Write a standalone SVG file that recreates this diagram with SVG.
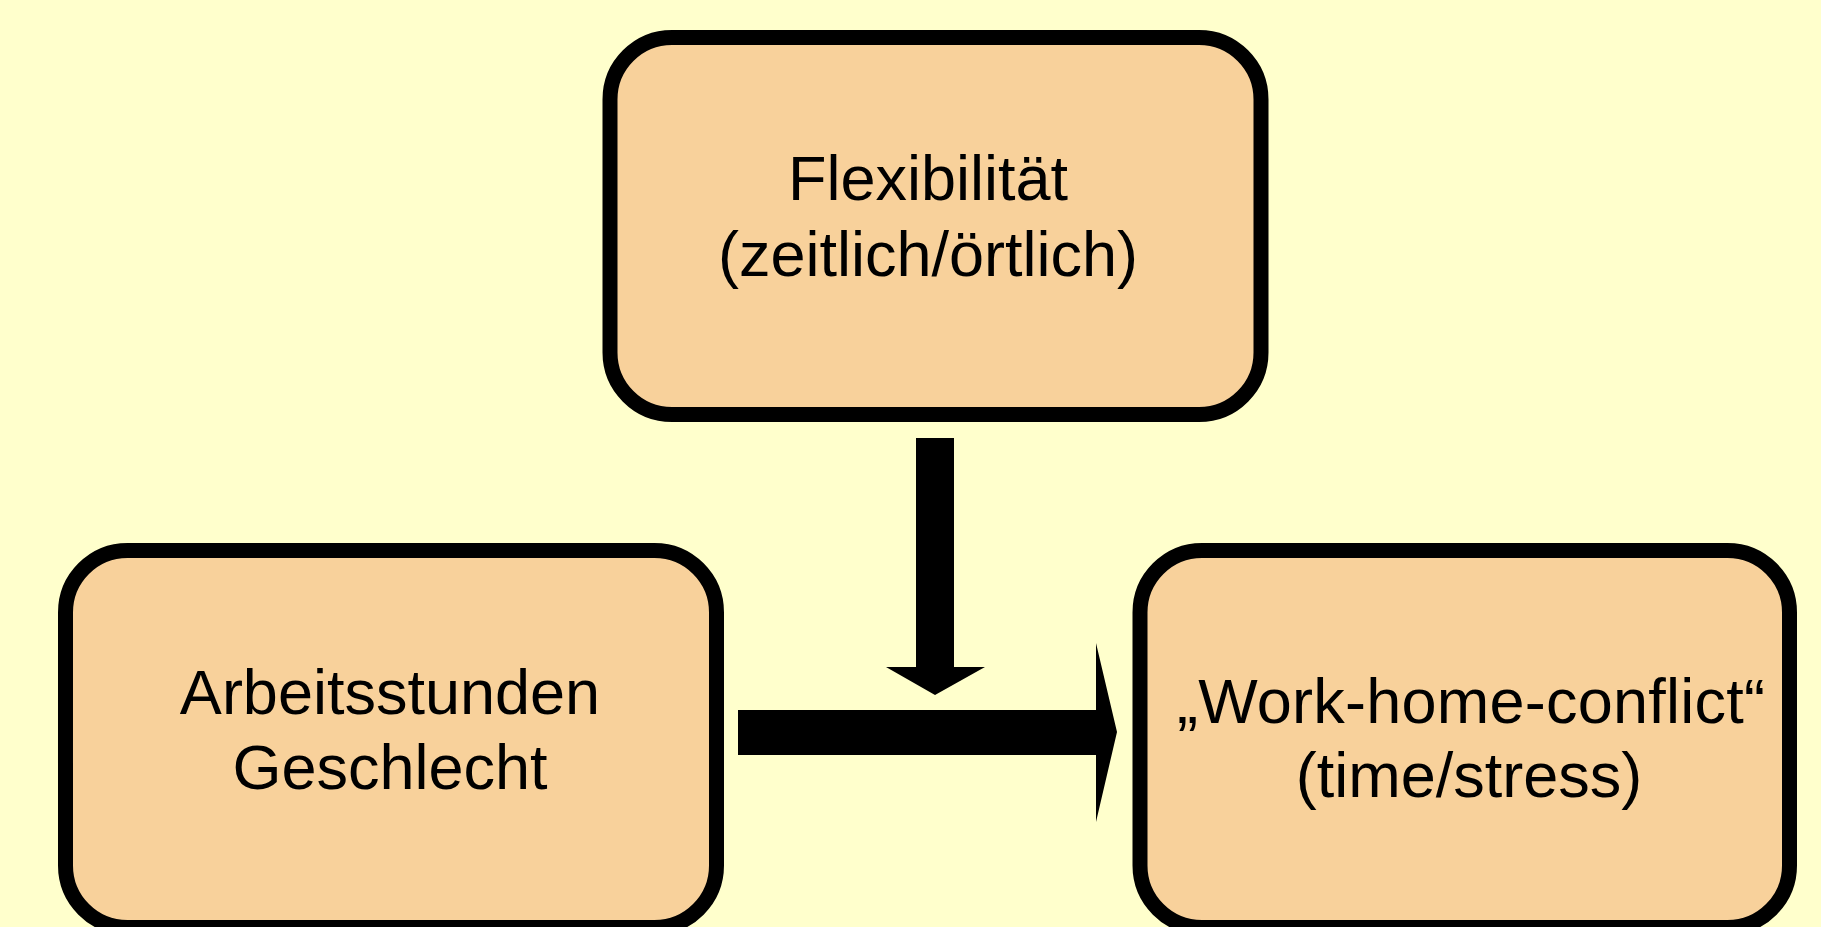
<svg xmlns="http://www.w3.org/2000/svg" width="1821" height="927" viewBox="0 0 1821 927">
<style>
.box{fill:#F8D19B;stroke:#000;stroke-width:15}
.lbl{font-family:"Liberation Sans",Arial,sans-serif;font-size:63px;fill:#000;text-anchor:middle}
.arr{fill:#000}
</style>
<rect x="0" y="0" width="1821" height="927" fill="#FFFFCC"/>
<g id="node-flex">
<rect class="box" x="610" y="37.5" width="651" height="377" rx="62" ry="62"/>
<text class="lbl" x="928" y="200">Flexibilität</text>
<text class="lbl" x="928" y="276">(zeitlich/örtlich)</text>
</g>
<g id="node-arbeit">
<rect class="box" x="65.5" y="550.5" width="651" height="377" rx="62" ry="62"/>
<text class="lbl" x="390" y="714">Arbeitsstunden</text>
<text class="lbl" x="390" y="789">Geschlecht</text>
</g>
<g id="node-whc">
<rect class="box" x="1140" y="550.5" width="649.5" height="377" rx="62" ry="62"/>
<text class="lbl" x="1471" y="723" textLength="588">„Work-home-conflict“</text>
<text class="lbl" x="1469" y="797">(time/stress)</text>
</g>
<g id="connectors">
<polygon class="arr" points="916,438 954,438 954,667 985,667 935,695 886,667 916,667"/>
<polygon class="arr" points="738,710 1096,710 1096,643 1117,732 1096,822 1096,755 738,755"/>
</g>
</svg>
